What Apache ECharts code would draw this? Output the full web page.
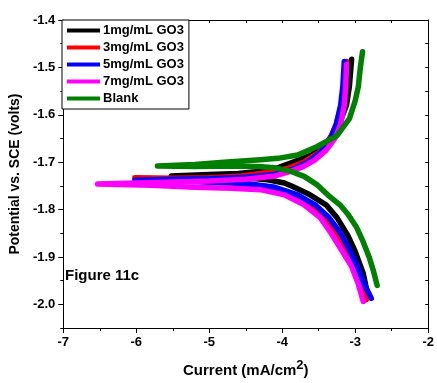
<!DOCTYPE html>
<html>
<head>
<meta charset="utf-8">
<script src="https://cdn.jsdelivr.net/npm/echarts@6/dist/echarts.min.js"></script>
<style>
html,body{margin:0;padding:0;background:#fff;}
#tafel{width:437px;height:383px;}
</style>
</head>
<body>
<div id="tafel"></div>
<script>
// tick labels
var xTicks = [-7, -6, -5, -4, -3, -2];
var yTicks = [-2.0, -1.9, -1.8, -1.7, -1.6, -1.5, -1.4];
var yMinor = [-2.05, -1.95, -1.85, -1.75, -1.65, -1.55, -1.45];

var names = ['1mg/mL GO3', '3mg/mL GO3', '5mg/mL GO3', '7mg/mL GO3', 'Blank'];

// [log current, potential], cathodic end -> Ecorr -> anodic end
var go1 = [[-2.83,-1.98],[-2.89,-1.935],[-2.95,-1.91],[-3.01,-1.885],[-3.10,-1.855],[-3.25,-1.817],[-3.40,-1.79],[-3.62,-1.769],[-3.85,-1.752],[-3.97,-1.744],
	[-4.2,-1.737],[-4.6,-1.732],[-5.0,-1.729],[-5.52,-1.729],
	[-5.0,-1.726],[-4.6,-1.724],[-4.37,-1.72],[-4.1,-1.714],[-3.85,-1.70],[-3.6,-1.685],[-3.4,-1.66],[-3.25,-1.63],[-3.17,-1.60],[-3.12,-1.58],[-3.08,-1.54],[-3.05,-1.483]];
var go3 = [[-2.85,-1.99],[-2.92,-1.956],[-3.0,-1.92],[-3.12,-1.885],[-3.25,-1.85],[-3.40,-1.817],[-3.6,-1.79],[-3.86,-1.769],[-4.2,-1.752],[-4.6,-1.745],
	[-5.1,-1.741],[-5.5,-1.738],[-6.02,-1.733],
	[-5.5,-1.734],[-5.0,-1.733],[-4.6,-1.73],[-4.2,-1.722],[-3.9,-1.712],[-3.7,-1.70],[-3.5,-1.68],[-3.36,-1.655],[-3.26,-1.62],[-3.19,-1.58],[-3.15,-1.54],[-3.12,-1.4875]];
var go5 = [[-2.78,-1.9875],[-2.88,-1.956],[-2.97,-1.92],[-3.08,-1.885],[-3.2,-1.85],[-3.36,-1.817],[-3.55,-1.79],[-3.79,-1.769],[-4.1,-1.753],[-4.5,-1.745],
	[-5.0,-1.742],[-5.5,-1.740],[-6.02,-1.738],
	[-5.5,-1.736],[-5.0,-1.735],[-4.5,-1.732],[-4.1,-1.726],[-3.85,-1.715],[-3.65,-1.70],[-3.48,-1.68],[-3.35,-1.655],[-3.26,-1.62],[-3.2,-1.58],[-3.17,-1.54],[-3.15,-1.4875]];
var go7 = [[-2.89,-1.994],[-2.96,-1.956],[-3.05,-1.92],[-3.19,-1.885],[-3.33,-1.85],[-3.48,-1.817],[-3.70,-1.79],[-3.97,-1.769],[-4.3,-1.758],[-4.7,-1.755],
	[-5.2,-1.753],[-5.8,-1.749],[-6.53,-1.746],
	[-6.0,-1.744],[-5.5,-1.742],[-5.0,-1.740],[-4.5,-1.736],[-4.1,-1.729],[-3.9,-1.72],[-3.72,-1.71],[-3.55,-1.695],[-3.40,-1.675],[-3.28,-1.65],[-3.2,-1.62],[-3.15,-1.58],[-3.13,-1.54],[-3.12,-1.494]];
var blank = [[-2.70,-1.96],[-2.75,-1.93],[-2.81,-1.90],[-2.90,-1.865],[-2.98,-1.838],[-3.10,-1.81],[-3.21,-1.79],[-3.37,-1.77],[-3.52,-1.748],[-3.70,-1.73],[-3.89,-1.719],
	[-4.10,-1.712],[-4.33,-1.709],[-4.7,-1.708],[-5.2,-1.709],[-5.71,-1.708],
	[-5.2,-1.705],[-4.8,-1.700],[-4.3,-1.695],[-4.06,-1.692],[-3.79,-1.685],[-3.52,-1.667],[-3.25,-1.644],[-3.08,-1.608],[-3.0,-1.57],[-2.957,-1.54],[-2.93,-1.50],[-2.90,-1.467]];

var colors = ['#000000', '#ff0000', '#0000ff', '#ff00ff', '#008000'];
var dataList = [go1, go3, go5, go7, blank];

var fontFam = 'Liberation Sans, Arial, sans-serif';
var series = [];
for (var i = 0; i < dataList.length; i++) {
	series.push({
		name: names[i],
		type: 'line',
		xAxisIndex: 0,
		yAxisIndex: 0,
		symbol: 'none',
		data: dataList[i],
		lineStyle: {width: 5.5, color: colors[i], cap: 'round', join: 'round'},
		itemStyle: {color: colors[i]}
	});
}

var option = {
	backgroundColor: '#fff',
	animation: false,
	textStyle: {fontFamily: fontFam},
	grid: {left: 62, right: 4, top: 20, bottom: 51},
	legend: {
		orient: 'vertical',
		left: 62,
		top: 20,
		padding: [4, 5, 4, 5],
		itemWidth: 33,
		itemHeight: 4,
		itemGap: 4,
		icon: 'rect',
		borderColor: '#000',
		borderWidth: 1,
		backgroundColor: '#fff',
		data: names,
		textStyle: {fontFamily: fontFam, fontSize: 13, fontWeight: 'bold', color: '#000', padding: [0, 0, 0, -2]}
	},
	xAxis: [{
		type: 'value',
		position: 'bottom',
		min: -7,
		max: -2,
		interval: 1,
		splitLine: {show: false},
		axisLine: {lineStyle: {color: '#000', width: 1}},
		axisTick: {length: 5, lineStyle: {color: '#000'}},
		minorTick: {show: true, splitNumber: 2, length: 3, lineStyle: {color: '#000'}},
		axisLabel: {color: '#000', fontSize: 13, fontWeight: 'bold', margin: 8, fontFamily: fontFam},
		name: '{a|Current (mA/cm}{b|2}{a|)}',
		nameLocation: 'middle',
		nameGap: 31,
		nameTextStyle: {
			rich: {
				a: {fontSize: 15, fontWeight: 'bold', color: '#000', fontFamily: fontFam},
				b: {fontSize: 13, fontWeight: 'bold', color: '#000', fontFamily: fontFam, padding: [0, 0, 10, 0]}
			}
		}
	}, {
		type: 'value',
		position: 'top',
		min: -7,
		max: -2,
		interval: 0.5,
		splitLine: {show: false},
		axisLine: {lineStyle: {color: '#000', width: 1}},
		axisTick: {inside: true, length: 3, lineStyle: {color: '#000'}},
		axisLabel: {show: false}
	}],
	yAxis: [{
		type: 'value',
		position: 'left',
		min: -2.05,
		max: -1.4,
		splitLine: {show: false},
		axisLine: {lineStyle: {color: '#000', width: 1}},
		axisTick: {length: 5, customValues: yTicks, lineStyle: {color: '#000'}},
		axisLabel: {
			customValues: yTicks,
			color: '#000', fontSize: 13, fontWeight: 'bold', margin: 8, fontFamily: fontFam,
			formatter: function (v) { return v.toFixed(1); }
		},
		name: 'Potential vs. SCE (volts)',
		nameLocation: 'middle',
		nameGap: 40,
		nameTextStyle: {fontSize: 14, fontWeight: 'bold', color: '#000', fontFamily: fontFam}
	}, {
		type: 'value',
		position: 'left',
		min: -2.05,
		max: -1.4,
		splitLine: {show: false},
		axisLine: {show: false},
		axisTick: {length: 3, customValues: yMinor, lineStyle: {color: '#000'}},
		axisLabel: {show: false}
	}, {
		type: 'value',
		position: 'right',
		min: -2.05,
		max: -1.4,
		interval: 0.05,
		splitLine: {show: false},
		axisLine: {lineStyle: {color: '#000', width: 1}},
		axisTick: {inside: true, length: 3, lineStyle: {color: '#000'}},
		axisLabel: {show: false}
	}],
	graphic: [{
		type: 'text',
		left: 65,
		top: 268,
		style: {text: 'Figure 11c', fontSize: 15, fontWeight: 'bold', fill: '#000', fontFamily: fontFam}
	}],
	series: series
};

var myChart = echarts.init(document.getElementById('tafel'));
myChart.setOption(option);
</script>
</body>
</html>
